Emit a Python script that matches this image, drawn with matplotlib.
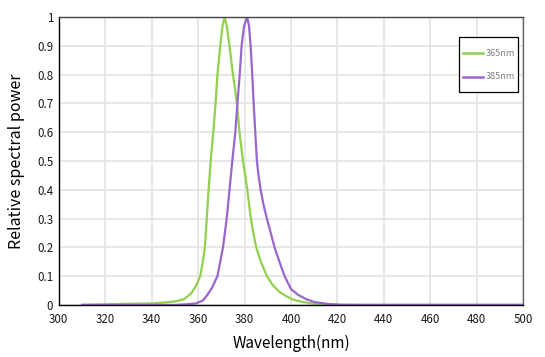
import matplotlib.pyplot as plt

plt.rcParams['font.family'] = ['Noto Sans CJK SC', 'DejaVu Sans']

# spectral curves
wl_365 = [310, 320, 330, 340, 345, 350, 354, 357, 359, 360.9, 362, 362.9, 363.7, 364.5,
          365.4, 366.5, 367.5, 368.3, 369.5, 370.5, 371.4, 372.3, 373.5, 375, 376.7,
          377.8, 379.3, 381, 382.4, 383.5, 385, 387, 389.6, 392, 395, 398, 401, 405,
          410, 420, 430, 500]
pw_365 = [0.0, 0.002, 0.004, 0.005, 0.008, 0.012, 0.02, 0.04, 0.065, 0.1, 0.15, 0.2, 0.3, 0.4,
          0.5, 0.6, 0.7, 0.8, 0.9, 0.97, 1.0, 0.97, 0.9, 0.8, 0.7,
          0.6, 0.5, 0.41, 0.32, 0.26, 0.2, 0.15, 0.1, 0.07, 0.045, 0.03, 0.018, 0.01,
          0.004, 0.001, 0.0, 0.0]

wl_385 = [310, 340, 350, 355, 359, 362, 364, 366, 368.3, 370.7, 372.3, 373.5, 374.7, 376,
          376.9, 377.9, 378.7, 379.8, 381.1, 381.9, 382.6, 383.3, 383.9, 384.6, 385.3,
          386, 386.9, 388.1, 389.6, 392.9, 395, 397.2, 400, 403, 406.5, 410, 416, 422, 500]
pw_385 = [0.0, 0.0, 0.0, 0.002, 0.005, 0.015, 0.035, 0.06, 0.1, 0.2, 0.3, 0.4, 0.5, 0.6,
          0.7, 0.8, 0.9, 0.97, 1.0, 0.97, 0.9, 0.8, 0.7, 0.6, 0.5,
          0.45, 0.4, 0.35, 0.3, 0.2, 0.15, 0.1, 0.055, 0.035, 0.02, 0.01, 0.003, 0.0, 0.0]

series_names = ['365nm', '385nm']
series_colors = ['#92d050', '#9966cc']

xticks = list(range(300, 501, 20))
yticks = [0, 0.1, 0.2, 0.3, 0.4, 0.5, 0.6, 0.7, 0.8, 0.9, 1]
ytick_labels = ['0', '0.1', '0.2', '0.3', '0.4', '0.5', '0.6', '0.7', '0.8', '0.9', '1']

fig = plt.figure(figsize=(5.45, 3.57), dpi=100)
ax = fig.add_axes([0.108, 0.146, 0.852, 0.806])

ax.plot(wl_365, pw_365, color=series_colors[0], lw=1.6)
ax.plot(wl_385, pw_385, color=series_colors[1], lw=1.6)

ax.set_xlim(300, 500)
ax.set_ylim(0, 1)
ax.set_xticks(xticks)
ax.set_yticks(yticks)
ax.set_yticklabels(ytick_labels)
ax.grid(True, color='#e3e3e3', lw=1.2)
ax.set_axisbelow(True)

ax.tick_params(axis='x', length=0, labelsize=8.3, pad=6, labelcolor='#1a1a1a')
ax.tick_params(axis='y', length=0, labelsize=8.3, pad=4, labelcolor='#1a1a1a')

ax.spines['left'].set_color('black')
ax.spines['bottom'].set_color('black')
ax.spines['top'].set_color('#444444')
ax.spines['right'].set_color('#666666')
for s in ax.spines.values():
    s.set_linewidth(1.0)

ax.set_xlabel('Wavelength(nm)', fontsize=11, labelpad=6)
ax.set_ylabel('Relative spectral power', fontsize=11.5, labelpad=9)

# legend box drawn by hand to get the loose spacing of the original
ax.add_patch(plt.Rectangle((0.862, 0.740), 0.127, 0.191, transform=ax.transAxes,
                           fill=True, facecolor='white', edgecolor='black', lw=0.9, zorder=5))
for i, (name, col) in enumerate(zip(series_names, series_colors)):
    yy = 0.875 - i * 0.083
    ax.plot([0.871, 0.914], [yy, yy], transform=ax.transAxes, color=col, lw=1.8, zorder=6)
    ax.text(0.919, yy, name, transform=ax.transAxes, fontsize=6.5, color='#808080',
            va='center', ha='left', zorder=6)

fig.savefig('out.png', dpi=100)
